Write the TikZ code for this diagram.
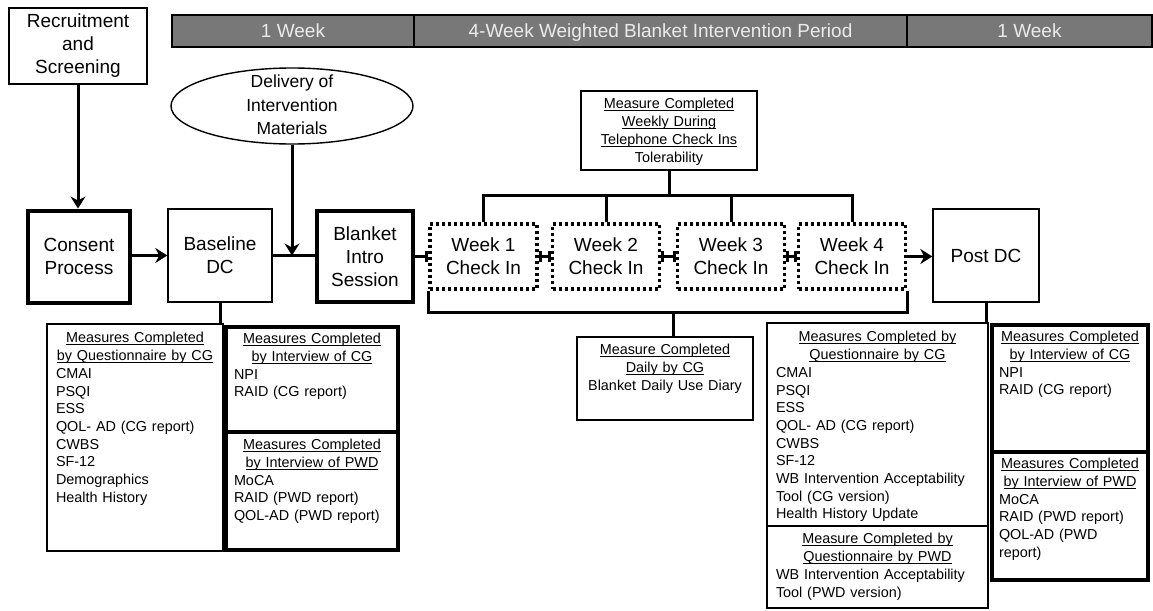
\documentclass[tikz,border=0pt]{standalone}
\usepackage{fontspec}
\setmainfont{Liberation Sans}
\usetikzlibrary{arrows.meta,shapes.geometric}
\definecolor{hdrgray}{RGB}{120,120,120}
\definecolor{hdrtext}{RGB}{235,235,235}
\newsavebox\ulbox
\newcommand\ulz[1]{\makebox[0pt]{\sbox\ulbox{#1}\rlap{\rule[-2.3pt]{\wd\ulbox}{0.9pt}}\usebox\ulbox}}
\newcommand\ctz[1]{\makebox[0pt]{#1}}
\newcommand\ttl[1]{{\centering #1\par}}
\begin{document}
\begin{tikzpicture}[x=1pt,y=-1pt,
  box/.style={draw, line width=1.4pt, rectangle, inner sep=0pt},
  tbox/.style={draw, line width=4pt, rectangle, inner sep=0pt},
  big/.style={font=\fontsize{19}{23}\selectfont, align=center, inner sep=0pt},
  wk/.style={draw, line width=3.5pt, dash pattern=on 3pt off 3pt, minimum width=107pt, minimum height=65pt, big},
  conn/.style={line width=3pt},
  arr/.style={conn, -{Stealth[length=12pt,width=15pt,inset=4pt]}},
  barr/.style={conn, {Bar[width=11pt,line width=3pt]}-{Bar[width=11pt,line width=3pt]}},
  sm/.style={font=\fontsize{14.4}{17.7}\selectfont, inner sep=0pt, anchor=north, align=left,
    execute at begin node={\setlength\parindent{0pt}}},
  hdr/.style={draw, line width=1.8pt, fill=hdrgray, text=hdrtext, font=\fontsize{19}{22}\selectfont, minimum height=32pt, inner sep=0pt, text height=14pt, text depth=1pt},
]
\useasboundingbox (0,0) rectangle (1153,610);

% header bar
\node[hdr, minimum width=242pt] (h1) at (293,31) {1 Week};
\node[hdr, minimum width=493pt] (h2) at (660.5,31) {4-Week Weighted Blanket Intervention Period};
\node[hdr, minimum width=245pt] (h3) at (1029.5,31) {1 Week};

% main flow
\node[box, big, minimum width=138pt, minimum height=76pt] (rec) at (78,46) {Recruitment\\and\\Screening};
\node[draw, line width=1.4pt, ellipse, minimum width=242pt, minimum height=76pt, inner sep=0pt] (deliv) at (292,106) {};
\node[font=\fontsize{17.5}{23.5}\selectfont, align=center, inner sep=0pt] (delivt) at ([yshift=1pt]deliv.center) {Delivery of\\Intervention\\Materials};
\node[tbox, big, minimum width=102pt, minimum height=92pt] (con) at (79,256.5) {Consent\\Process};
\node[box, big, minimum width=104pt, minimum height=93pt] (base) at (220,255.5) {Baseline\\DC};
\node[tbox, big, minimum width=96pt, minimum height=91pt] (blank) at (365,256.5) {Blanket\\Intro\\Session};
\node[wk] (w1) at (483.5,256.5) {Week 1\\Check In};
\node[wk] (w2) at (606,256.5) {Week 2\\Check In};
\node[wk] (w3) at (731,256.5) {Week 3\\Check In};
\node[wk] (w4) at (852,256.5) {Week 4\\Check In};
\node[box, big, minimum width=106pt, minimum height=93pt] (post) at (986,255.5) {Post DC};

% weekly and daily measure boxes
\node[box, minimum width=176pt, minimum height=79pt] (weekly) at (669,130.5) {};
\node[sm, text width=170pt] (weeklyt) at ([yshift=-8pt]weekly.north) {\ttl{\ulz{Measure Completed}\\\ulz{Weekly During}\\\ulz{Telephone Check Ins}\\\ctz{Tolerability}}};
\node[box, minimum width=176pt, minimum height=83pt] (daily) at (665,378.5) {};
\node[sm, text width=170pt] (dailyt) at ([yshift=-8pt]daily.north) {\ttl{\ulz{Measure Completed}\\\ulz{Daily by CG}\\\ctz{Blanket Daily Use Diary}}};

% left measure boxes
\node[box, minimum width=176pt, minimum height=227pt] (qcgL) at (135,437.5) {};
\node[sm, text width=158pt] (qcgLt) at ([yshift=-9pt]qcgL.north) {\ttl{\ulz{Measures Completed}\\\ulz{by Questionnaire by CG}}CMAI\\PSQI\\ESS\\QOL- AD (CG report)\\CWBS\\SF-12\\Demographics\\Health History};
\node[tbox, minimum width=172pt, minimum height=105pt] (icgL) at (312,379.5) {};
\node[sm, text width=156pt] (icgLt) at ([yshift=-8pt]icgL.north) {\ttl{\ulz{Measures Completed}\\\ulz{by Interview of CG}}NPI\\RAID (CG report)};
\node[tbox, minimum width=172pt, minimum height=118pt] (ipwdL) at (312,491) {};
\node[sm, text width=156pt] (ipwdLt) at ([yshift=-9pt]ipwdL.north) {\ttl{\ulz{Measures Completed}\\\ulz{by Interview of PWD}}MoCA\\RAID (PWD report)\\QOL-AD (PWD report)};

% right measure boxes
\node[box, minimum width=221pt, minimum height=203pt] (qcgR) at (877.5,424.5) {};
\node[sm, text width=203pt] (qcgRt) at ([yshift=-9pt]qcgR.north) {\ttl{\ulz{Measures Completed by}\\\ulz{Questionnaire by CG}}CMAI\\PSQI\\ESS\\QOL- AD (CG report)\\CWBS\\SF-12\\WB Intervention Acceptability\\Tool (CG version)\\Health History Update};
\node[box, minimum width=221pt, minimum height=82pt] (qpwdR) at (877.5,567) {};
\node[sm, text width=203pt] (qpwdRt) at ([yshift=-8pt]qpwdR.north) {\ttl{\ulz{Measure Completed by}\\\ulz{Questionnaire by PWD}}WB Intervention Acceptability\\Tool (PWD version)};
\node[tbox, minimum width=156pt, minimum height=127pt] (icgR) at (1070,388.5) {};
\node[sm, text width=142pt] (icgRt) at ([yshift=-8pt]icgR.north) {\ttl{\ulz{Measures Completed}\\\ulz{by Interview of CG}}NPI\\RAID (CG report)};
\node[tbox, minimum width=156pt, minimum height=128pt] (ipwdR) at (1070,516) {};
\node[sm, text width=142pt] (ipwdRt) at ([yshift=-8pt]ipwdR.north) {\ttl{\ulz{Measures Completed}\\\ulz{by Interview of PWD}}MoCA\\RAID (PWD report)\\QOL-AD (PWD\\report)};

% connectors
\draw[arr] (rec.south) -- (rec.south |- con.north);
\draw[arr] (con.east |- base.east) -- (base.west);
\draw[conn] (base.east) -- (base.east -| blank.west);
\draw[arr] (deliv.south) -- (deliv.south |- base.east);
\draw[conn, -{Bar[width=11pt,line width=3pt]}] (blank.east |- w1.west) -- (w1.west);
\draw[barr] (w1.east) -- (w2.west);
\draw[barr] (w2.east) -- (w3.west);
\draw[barr] (w3.east) -- (w4.west);
\draw[arr] (w4.east) -- (w4.east -| post.west);

\coordinate (wb) at (669,195);
\draw[conn] (weekly.south) -- (weekly.south |- wb);
\draw[conn] (w1.north) -- (w1.north |- wb) -- (w4.north |- wb) -- (w4.north);
\draw[conn] (w2.north) -- (w2.north |- wb);
\draw[conn] (w3.north) -- (w3.north |- wb);

\coordinate (lb) at (673,312);
\draw[conn] (w1.south west) -- (w1.south west |- lb) -- (w4.south east |- lb) -- (w4.south east);
\draw[conn] (lb) -- (lb |- daily.north);

\draw[conn] (base.south) -- (base.south |- qcgL.north);
\draw[conn] (post.south) -- (post.south |- qcgR.north);
\end{tikzpicture}
\end{document}
